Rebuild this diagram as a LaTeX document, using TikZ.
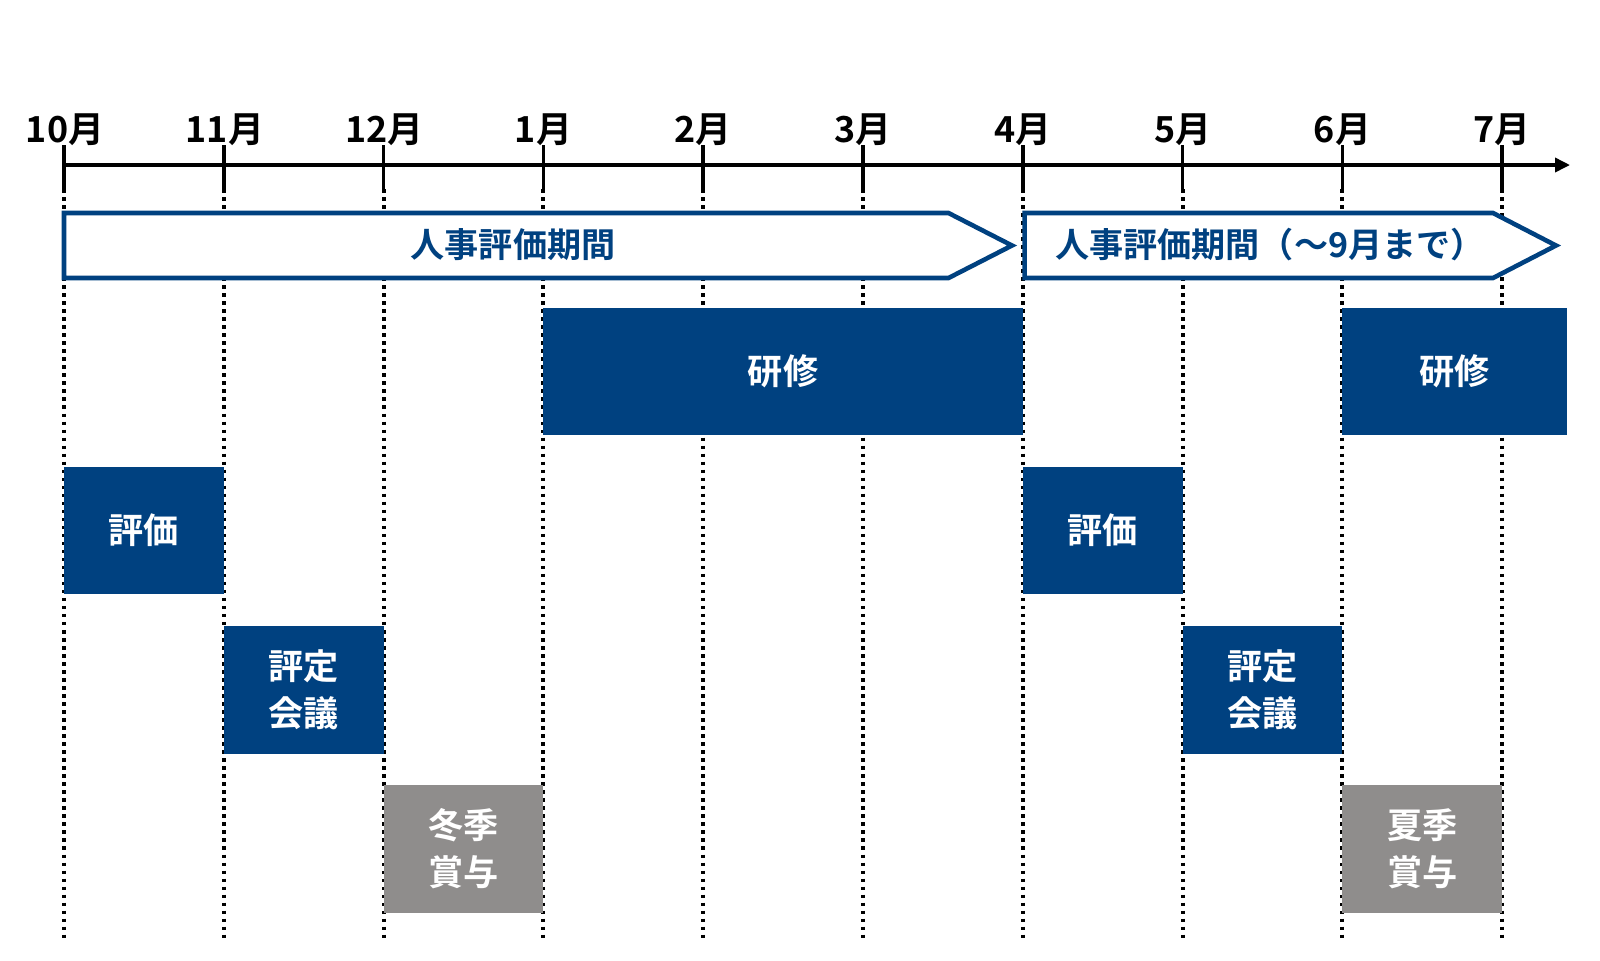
\documentclass[tikz,border=0pt]{standalone}
\usepackage{fontspec}
\setmainfont{Noto Sans CJK JP}[BoldFont={Noto Sans CJK JP Bold}]
\usetikzlibrary{arrows.meta}
\definecolor{navy}{RGB}{0,65,128}
\definecolor{bonusgray}{RGB}{143,141,140}

\begin{document}
\begin{tikzpicture}[x=0.01cm, y=-0.01cm,
  month/.style={font=\bfseries\fontsize{10.2}{12}\selectfont, inner sep=0pt},
  tick/.style={line width=1pt},
  guide/.style={line width=1.15pt, dash pattern=on 1pt off 1.28pt},
  period/.style={draw=navy, line width=1.3pt, fill=white, line join=miter},
  periodlabel/.style={text=navy, font=\bfseries\fontsize{9.7}{12}\selectfont},
  task/.style={fill=navy, text=white, align=center, inner sep=0pt, minimum height=1.27cm, font=\bfseries\fontsize{10}{13.4}\selectfont},
  bonus/.style={task, fill=bonusgray}]
\useasboundingbox (0,0) rectangle (1600,960);
% months
\node[month] (m0) at (65,130) {10月};
\node[month] (m1) at (224.8,130) {11月};
\node[month] (m2) at (384.6,130) {12月};
\node[month] (m3) at (543.4,130) {1月};
\node[month] (m4) at (703.2,130) {2月};
\node[month] (m5) at (863,130) {3月};
\node[month] (m6) at (1022.8,130) {4月};
\node[month] (m7) at (1182.6,130) {5月};
\node[month] (m8) at (1342.4,130) {6月};
\node[month] (m9) at (1502.2,130) {7月};
\foreach \i in {0,...,9} {
  \coordinate (top\i) at ({64+159.8*\i},145);
  \coordinate (mid\i) at ({64+159.8*\i},189);
  \coordinate (bot\i) at ({64+159.8*\i},941);
  \draw[tick] (top\i) -- (mid\i);
  \draw[guide] (mid\i) -- (bot\i);
}
\coordinate (axisstart) at (64,165);
\coordinate (axisend) at (1570,165);
\draw[tick, -{Triangle[length=0.15cm, width=0.14cm]}] (axisstart) -- (axisend);
% evaluation periods
\draw[period] (64,213) -- (948.5,213) -- (1012,245.5) -- (948.5,278) -- (64,278) -- cycle;
\draw[period] (1024.6,213) -- (1493,213) -- (1556,245.5) -- (1493,278) -- (1024.6,278) -- cycle;
\node[periodlabel] (p1) at (513,245) {人事評価期間};
\node[periodlabel] (p2) at (1270,245) {人事評価期間（～9月まで）};
% tasks
\node[task, minimum width=4.794cm] (train1) at (783.1,371.5) {研修};
\node[task, minimum width=2.25cm] (train2) at (1454.7,371.5) {研修};
\node[task, minimum width=1.598cm] (eval1) at (143.9,530.5) {評価};
\node[task, minimum width=1.598cm] (eval2) at (1102.7,530.5) {評価};
\node[task, minimum width=1.598cm] (meet1) at (303.7,690) {評定\\会議};
\node[task, minimum width=1.598cm] (meet2) at (1262.5,690) {評定\\会議};
\node[bonus, minimum width=1.598cm] (bonus1) at (463.5,849) {冬季\\賞与};
\node[bonus, minimum width=1.598cm] (bonus2) at (1422.3,849) {夏季\\賞与};
\end{tikzpicture}
\end{document}
